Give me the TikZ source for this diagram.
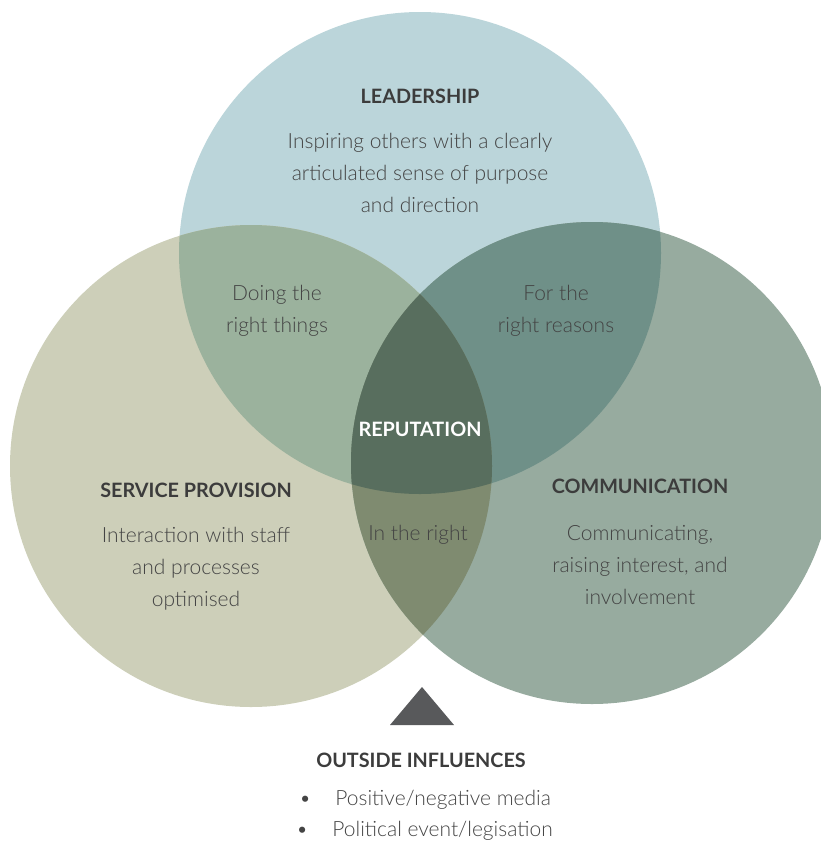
\documentclass[tikz,border=0pt]{standalone}
\usepackage{fontspec}
\setmainfont{Lato}[UprightFont={* Light},BoldFont={* Bold}]
\usepackage{tikz}

\definecolor{leadblue}{HTML}{BBD5DA}
\definecolor{servbeige}{HTML}{CDCFB9}
\definecolor{commgreen}{HTML}{97AB9F}
\definecolor{lsmix}{HTML}{9BB29D}
\definecolor{lcmix}{HTML}{6F9088}
\definecolor{scmix}{HTML}{7F8B70}
\definecolor{repmix}{HTML}{586E5E}
\definecolor{headgray}{HTML}{3C3C3C}
\definecolor{bodygray}{HTML}{444444}
\definecolor{arrowgray}{HTML}{58595B}

\begin{document}
\begin{tikzpicture}[x=1pt,y=-1pt,
    head/.style={font=\fontsize{19.8}{22}\selectfont\bfseries, text=headgray, inner sep=0pt},
    body/.style={font=\fontsize{21}{32}\selectfont, text=bodygray, align=center, inner sep=0pt},
    bullet/.style={font=\fontsize{21}{31}\selectfont, text=bodygray, anchor=west, inner sep=0pt}]
            \useasboundingbox (0,0) rectangle (821,841);
            % circles
            \def\leadc{(420,253) circle (241)}
            \def\servc{(251,466) circle (241)}
            \def\commc{(592,463) circle (241)}
            \fill [leadblue] \leadc;
            \fill [servbeige] \servc;
            \fill [commgreen] \commc;
            % overlaps
            \begin{scope}
              \clip \leadc;
              \fill [lsmix] \servc;
              \fill [lcmix] \commc;
            \end{scope}
            \begin{scope}
              \clip \servc;
              \fill [scmix] \commc;
              \clip \commc;
              \fill [repmix] \leadc;
            \end{scope}
            % texts
            \node [head] (leadhead) at (420,96) {LEADERSHIP};
            \node [body] (leadbody) at (420,173) {Inspiring others with a clearly\\articulated sense of purpose\\and direction};
            \node [body] (lstext) at (277,311) {Doing the\\right things};
            \node [body] (lctext) at (556,311) {For the\\right reasons};
            \node [head, text=white] (rephead) at (420,429) {REPUTATION};
            \node [head] (servhead) at (196,490) {SERVICE PROVISION};
            \node [body] (servbody) at (196,569) {Interaction with staff\\and processes\\optimised};
            \node [head] (commhead) at (640,486) {COMMUNICATION};
            \node [body] (commbody) at (640,565) {Communicating,\\raising interest, and\\involvement};
            \node [body] (sctext) at (418,535) {In the right};
            % outside influences
            \coordinate (apex) at (422,687);
            \fill [arrowgray] (apex) -- (454,725) -- (390,725) -- cycle;
            \node [head] (outhead) at (421,760) {OUTSIDE INFLUENCES};
            \node [bullet] (media) at (299,800) {•\hspace{24pt}Positive/negative media};
            \node [bullet] (politics) at (296,831) {•\hspace{24pt}Political event/legisation};
\end{tikzpicture}
\end{document}
